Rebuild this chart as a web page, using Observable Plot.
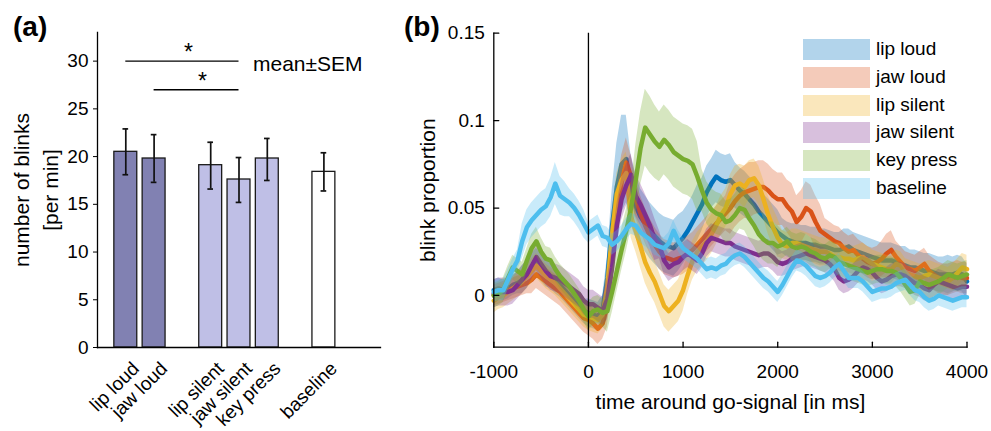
<!DOCTYPE html>
<html><head><meta charset="utf-8">
<script src="https://cdn.jsdelivr.net/npm/d3@7"></script>
<script src="https://cdn.jsdelivr.net/npm/@observablehq/plot@0.6"></script>
<style>
body{margin:0;background:#fff;}
#wrap{position:relative;width:991px;height:431px;font-family:"Liberation Sans",Arial,sans-serif;color:#000;overflow:hidden;}
#pa{position:absolute;left:0;top:0;}
#pb{position:absolute;left:400px;top:0;}
.tag{position:absolute;font-weight:bold;font-size:28px;line-height:28px;}
#legend{position:absolute;left:803px;top:39px;}
.row{position:relative;height:21px;margin-bottom:6.75px;font-size:19px;line-height:21px;}
.sw{position:absolute;left:0;top:0;width:67px;height:21px;opacity:0.3;}
.lt{position:absolute;left:73px;top:-1px;white-space:nowrap;}
</style></head><body>
<div id="wrap">
 <div id="pa"></div><div id="pb"></div>
 <div class="tag" style="left:13px;top:13px">(a)</div>
 <div class="tag" style="left:404px;top:13px">(b)</div>
 <div id="legend"></div>
</div>
<script>
// ---------- panel (a) data ----------
const conditions = ["lip loud","jaw loud","lip silent","jaw silent","key press","baseline"];
const blinkMean = [20.5, 19.8, 19.1, 17.6, 19.8, 18.4];
const blinkLow  = [18.1, 17.3, 16.6, 15.2, 17.5, 16.4];
const blinkHigh = [22.9, 22.3, 21.5, 19.9, 21.9, 20.4];
const yTicksA = [0, 5, 10, 15, 20, 25, 30];
const sigPairs = [["lip loud","jaw silent",30],["jaw loud","jaw silent",27]];

// ---------- panel (b) data: time from -1000 to 4000 ms, every 50 ms ----------
const timeMs = d3.range(-1000, 4001, 50);
const lipLoud = [
 0.003,0.004,0.003,0.004,0.006,0.007,0.009,0.012,0.016,0.019,
 0.016,0.013,0.011,0.008,0.006,0.003,0.000,-0.003,-0.006,-0.009,
 -0.010,-0.011,-0.012,-0.008,0.010,0.040,0.062,0.075,0.078,0.060,
 0.051,0.045,0.041,0.037,0.034,0.031,0.029,0.028,0.027,0.030,
 0.033,0.037,0.042,0.047,0.052,0.059,0.064,0.068,0.066,0.065,
 0.066,0.063,0.060,0.058,0.055,0.052,0.048,0.045,0.042,0.039,
 0.036,0.034,0.032,0.031,0.030,0.030,0.030,0.029,0.029,0.028,
 0.028,0.027,0.026,0.026,0.027,0.028,0.026,0.025,0.024,0.023,
 0.022,0.021,0.020,0.020,0.020,0.019,0.018,0.017,0.016,0.016,
 0.015,0.014,0.014,0.013,0.012,0.012,0.012,0.012,0.013,0.012,
 0.008];
const lipLoudSem = [
 0.006,0.006,0.006,0.006,0.006,0.006,0.008,0.008,0.008,0.008,
 0.008,0.008,0.007,0.007,0.007,0.007,0.007,0.007,0.007,0.007,
 0.008,0.008,0.008,0.008,0.012,0.020,0.025,0.028,0.025,0.020,
 0.018,0.016,0.016,0.016,0.016,0.016,0.016,0.016,0.016,0.016,
 0.015,0.015,0.015,0.016,0.015,0.015,0.014,0.015,0.015,0.015,
 0.015,0.013,0.013,0.013,0.013,0.013,0.013,0.013,0.013,0.013,
 0.013,0.010,0.010,0.010,0.011,0.010,0.010,0.010,0.010,0.010,
 0.010,0.010,0.010,0.010,0.011,0.010,0.010,0.010,0.010,0.010,
 0.010,0.010,0.010,0.010,0.010,0.010,0.010,0.011,0.010,0.010,
 0.010,0.010,0.010,0.010,0.010,0.010,0.011,0.010,0.010,0.010,
 0.010];
const jawLoud = [
 0.000,0.001,0.002,0.003,0.004,0.005,0.006,0.007,0.009,0.012,
 0.010,0.008,0.006,0.004,0.002,-0.001,-0.004,-0.007,-0.010,-0.013,
 -0.014,-0.016,-0.019,-0.016,-0.006,0.020,0.045,0.065,0.076,0.068,
 0.055,0.047,0.040,0.034,0.029,0.025,0.022,0.021,0.020,0.021,
 0.022,0.024,0.026,0.029,0.032,0.035,0.038,0.041,0.044,0.047,
 0.050,0.054,0.057,0.059,0.060,0.061,0.062,0.062,0.060,0.057,
 0.055,0.055,0.051,0.048,0.042,0.045,0.050,0.048,0.042,0.037,
 0.035,0.033,0.031,0.030,0.027,0.025,0.026,0.023,0.021,0.019,
 0.018,0.019,0.021,0.024,0.026,0.022,0.019,0.016,0.015,0.014,
 0.016,0.018,0.014,0.012,0.010,0.009,0.009,0.010,0.011,0.010,
 0.010];
const jawLoudSem = [
 0.006,0.006,0.006,0.006,0.006,0.006,0.006,0.006,0.008,0.008,
 0.008,0.008,0.008,0.008,0.008,0.008,0.008,0.008,0.008,0.008,
 0.009,0.009,0.009,0.009,0.012,0.015,0.015,0.015,0.014,0.012,
 0.011,0.010,0.010,0.010,0.010,0.010,0.010,0.010,0.010,0.010,
 0.010,0.010,0.010,0.010,0.010,0.010,0.010,0.010,0.010,0.010,
 0.015,0.015,0.015,0.015,0.016,0.015,0.015,0.015,0.015,0.015,
 0.015,0.015,0.015,0.016,0.015,0.015,0.015,0.015,0.015,0.015,
 0.009,0.009,0.009,0.009,0.009,0.009,0.009,0.009,0.009,0.009,
 0.009,0.009,0.010,0.011,0.011,0.009,0.009,0.009,0.009,0.009,
 0.009,0.009,0.009,0.009,0.009,0.009,0.009,0.009,0.009,0.009,
 0.009];
const lipSilent = [
 -0.003,-0.001,0.000,0.002,0.004,0.006,0.008,0.011,0.014,0.017,
 0.014,0.011,0.009,0.007,0.004,0.001,-0.002,-0.005,-0.008,-0.011,
 -0.012,-0.013,-0.014,-0.011,0.005,0.035,0.058,0.066,0.070,0.045,
 0.037,0.028,0.019,0.013,0.008,0.001,-0.006,-0.009,-0.006,-0.003,
 0.003,0.012,0.020,0.025,0.028,0.031,0.035,0.040,0.046,0.050,
 0.058,0.063,0.064,0.062,0.066,0.067,0.063,0.055,0.046,0.039,
 0.033,0.029,0.028,0.030,0.030,0.029,0.028,0.027,0.026,0.025,
 0.025,0.024,0.022,0.022,0.021,0.021,0.020,0.021,0.022,0.020,
 0.018,0.017,0.016,0.015,0.015,0.018,0.017,0.013,0.012,0.011,
 0.010,0.011,0.012,0.011,0.010,0.009,0.008,0.010,0.013,0.016,
 0.015];
const lipSilentSem = [
 0.007,0.007,0.007,0.007,0.007,0.007,0.007,0.007,0.007,0.007,
 0.007,0.007,0.007,0.007,0.007,0.007,0.007,0.007,0.007,0.007,
 0.008,0.008,0.008,0.008,0.012,0.012,0.012,0.012,0.012,0.012,
 0.012,0.012,0.012,0.012,0.012,0.012,0.012,0.012,0.012,0.012,
 0.012,0.011,0.011,0.011,0.011,0.011,0.011,0.011,0.011,0.011,
 0.011,0.011,0.011,0.012,0.011,0.011,0.011,0.011,0.011,0.011,
 0.011,0.008,0.008,0.008,0.008,0.008,0.008,0.008,0.008,0.008,
 0.008,0.008,0.008,0.008,0.008,0.008,0.008,0.008,0.008,0.008,
 0.008,0.008,0.008,0.008,0.008,0.008,0.008,0.008,0.008,0.008,
 0.008,0.008,0.008,0.008,0.008,0.008,0.008,0.008,0.008,0.008,
 0.008];
const jawSilent = [
 0.001,0.002,0.002,0.002,0.003,0.006,0.009,0.012,0.017,0.022,
 0.018,0.014,0.011,0.010,0.009,0.007,0.005,0.003,0.001,-0.003,
 -0.005,-0.005,-0.007,-0.009,-0.002,0.016,0.040,0.055,0.063,0.069,
 0.057,0.052,0.046,0.040,0.032,0.029,0.020,0.016,0.018,0.019,
 0.022,0.024,0.022,0.020,0.024,0.030,0.033,0.032,0.031,0.030,
 0.030,0.028,0.027,0.026,0.025,0.024,0.023,0.024,0.024,0.022,
 0.019,0.018,0.019,0.021,0.022,0.023,0.024,0.023,0.022,0.021,
 0.020,0.018,0.015,0.010,0.008,0.009,0.011,0.014,0.016,0.015,
 0.013,0.010,0.008,0.009,0.011,0.012,0.012,0.011,0.009,0.007,
 0.006,0.004,0.003,0.006,0.008,0.007,0.006,0.005,0.004,0.005,
 0.005];
const jawSilentSem = [
 0.008,0.008,0.008,0.008,0.008,0.008,0.008,0.008,0.008,0.008,
 0.008,0.008,0.008,0.008,0.008,0.008,0.008,0.008,0.008,0.008,
 0.008,0.008,0.008,0.008,0.012,0.012,0.012,0.012,0.012,0.012,
 0.012,0.012,0.012,0.012,0.012,0.008,0.008,0.008,0.008,0.008,
 0.008,0.008,0.008,0.008,0.008,0.008,0.008,0.008,0.008,0.008,
 0.008,0.008,0.008,0.008,0.008,0.008,0.008,0.008,0.008,0.008,
 0.008,0.007,0.007,0.007,0.007,0.007,0.007,0.007,0.007,0.007,
 0.007,0.007,0.007,0.007,0.007,0.007,0.007,0.007,0.007,0.007,
 0.007,0.007,0.007,0.007,0.007,0.007,0.007,0.007,0.007,0.007,
 0.007,0.007,0.007,0.007,0.007,0.007,0.007,0.007,0.007,0.007,
 0.007];
const keyPress = [
 0.000,0.001,0.003,0.010,0.016,0.014,0.012,0.020,0.027,0.031,
 0.025,0.021,0.020,0.015,0.011,0.008,0.005,0.001,-0.003,-0.008,
 -0.012,-0.009,-0.008,-0.010,-0.009,0.002,0.014,0.026,0.037,0.050,
 0.066,0.084,0.096,0.092,0.088,0.085,0.089,0.086,0.082,0.080,
 0.078,0.077,0.075,0.068,0.060,0.053,0.049,0.047,0.046,0.042,
 0.043,0.046,0.050,0.049,0.044,0.040,0.035,0.032,0.030,0.030,
 0.028,0.029,0.031,0.028,0.027,0.028,0.027,0.025,0.024,0.022,
 0.021,0.023,0.022,0.019,0.018,0.017,0.016,0.015,0.014,0.013,
 0.014,0.015,0.015,0.014,0.014,0.013,0.010,0.006,0.002,0.003,
 0.008,0.007,0.006,0.007,0.008,0.010,0.012,0.011,0.010,0.011,
 0.012];
const keyPressSem = [
 0.007,0.007,0.007,0.007,0.007,0.007,0.007,0.007,0.008,0.008,
 0.008,0.007,0.007,0.007,0.007,0.007,0.007,0.007,0.007,0.007,
 0.008,0.008,0.008,0.008,0.012,0.012,0.012,0.012,0.012,0.012,
 0.020,0.021,0.022,0.022,0.021,0.020,0.020,0.020,0.020,0.020,
 0.020,0.020,0.020,0.020,0.012,0.012,0.012,0.012,0.012,0.012,
 0.012,0.012,0.012,0.012,0.012,0.012,0.012,0.012,0.012,0.012,
 0.012,0.008,0.008,0.008,0.008,0.008,0.008,0.008,0.008,0.008,
 0.008,0.008,0.008,0.008,0.008,0.008,0.008,0.008,0.008,0.008,
 0.008,0.008,0.008,0.008,0.008,0.008,0.008,0.008,0.008,0.008,
 0.008,0.008,0.008,0.008,0.008,0.008,0.008,0.008,0.008,0.008,
 0.008];
const baseline = [
 0.002,0.003,0.003,0.009,0.015,0.020,0.031,0.039,0.043,0.046,
 0.049,0.051,0.056,0.064,0.057,0.055,0.053,0.050,0.046,0.041,
 0.036,0.038,0.040,0.034,0.033,0.029,0.031,0.034,0.038,0.041,
 0.040,0.036,0.034,0.032,0.029,0.028,0.027,0.030,0.037,0.031,
 0.027,0.025,0.023,0.021,0.018,0.015,0.016,0.015,0.017,0.018,
 0.021,0.023,0.024,0.022,0.019,0.016,0.013,0.010,0.008,0.005,
 0.002,0.006,0.011,0.016,0.020,0.019,0.017,0.014,0.011,0.010,
 0.011,0.013,0.016,0.018,0.014,0.010,0.010,0.010,0.008,0.005,
 0.002,0.003,0.004,0.004,0.005,0.007,0.008,0.009,0.006,0.003,
 0.002,-0.001,-0.003,-0.002,0.000,-0.001,-0.002,-0.003,-0.002,-0.001,
 -0.001];
const baselineSem = [
 0.006,0.006,0.006,0.006,0.006,0.006,0.010,0.010,0.010,0.010,
 0.010,0.010,0.011,0.012,0.011,0.010,0.008,0.008,0.008,0.008,
 0.006,0.006,0.006,0.006,0.006,0.006,0.006,0.006,0.006,0.006,
 0.006,0.006,0.006,0.006,0.006,0.006,0.006,0.006,0.006,0.006,
 0.006,0.006,0.006,0.006,0.006,0.006,0.006,0.006,0.006,0.006,
 0.006,0.006,0.006,0.006,0.006,0.006,0.006,0.006,0.006,0.006,
 0.006,0.006,0.006,0.006,0.006,0.006,0.006,0.006,0.006,0.006,
 0.006,0.006,0.006,0.006,0.006,0.006,0.006,0.006,0.006,0.006,
 0.006,0.006,0.006,0.006,0.006,0.006,0.006,0.006,0.006,0.006,
 0.006,0.006,0.006,0.006,0.006,0.006,0.006,0.006,0.006,0.006,
 0.006];
const xTicksB = [-1000, 0, 1000, 2000, 3000, 4000];
const yTicksB = [0, 0.05, 0.1, 0.15];
const seriesNames = ["lip loud","jaw loud","lip silent","jaw silent","key press","baseline"];

// ---------- styles ----------
const FONT = '"Liberation Sans", Arial, sans-serif';
const lineColors = ["#0072BD","#D95319","#EDB120","#7E2F8E","#77AC30","#4DBEEE"];
const barFill = {loud: "#8181b2", silent: "#bfbfe6", rest: "#ffffff"};
const barGroup = ["loud","loud","silent","silent","silent","rest"];

// ---------- panel (a) ----------
// slot layout: bars side by side, one empty slot between groups
let slot = 0, prev = null;
const barData = conditions.map((c, i) => {
  slot += (prev !== null && barGroup[i] !== prev) ? 2 : 1;
  prev = barGroup[i];
  return {c, m: blinkMean[i], lo: blinkLow[i], hi: blinkHigh[i], slot, fill: barFill[barGroup[i]]};
});
const slotOf = Object.fromEntries(barData.map(d => [d.c, d.slot]));
const sigData = sigPairs.map(([a, b, y]) => ({s1: slotOf[a], s2: slotOf[b], y}));
const half = 0.405, cap = 0.1;

const plotA = Plot.plot({
  width: 390, height: 431,
  marginLeft: 97, marginRight: 10, marginTop: 32, marginBottom: 84,
  x: {domain: [0, 10], axis: null},
  y: {domain: [0, 33], axis: null},
  color: {type: "identity"},
  style: {fontFamily: FONT, fontSize: "19px", color: "#000", background: "transparent"},
  marks: [
    Plot.rectY(barData, {x1: d => d.slot - half, x2: d => d.slot + half, y1: 0, y2: "m", fill: "fill", stroke: "#1a1a1a", strokeWidth: 1.3}),
    Plot.ruleX(barData, {x: "slot", y1: "lo", y2: "hi", stroke: "#111", strokeWidth: 1.7}),
    Plot.ruleY(barData, {x1: d => d.slot - cap, x2: d => d.slot + cap, y: "hi", stroke: "#111", strokeWidth: 1.7}),
    Plot.ruleY(barData, {x1: d => d.slot - cap, x2: d => d.slot + cap, y: "lo", stroke: "#111", strokeWidth: 1.7}),
    Plot.ruleY(sigData, {x1: "s1", x2: "s2", y: "y", stroke: "#000", strokeWidth: 1.3}),
    Plot.text(sigData, {x: d => (d.s1 + d.s2) / 2, y: "y", text: () => "*", fontSize: 23, dx: 6, dy: -8.5}),
    Plot.text([sigData[0]], {x: "s2", y: "y", text: () => "mean±SEM", textAnchor: "start", dx: 14, dy: 3, fontSize: 21}),
    Plot.frame({anchor: "left", strokeWidth: 1.3}),
    Plot.frame({anchor: "bottom", strokeWidth: 1.3}),
    Plot.axisY(yTicksA, {tickSize: 4, tickPadding: 5, fontSize: 19, label: null}),
    Plot.text(barData, {x: "slot", y: 0, text: "c", rotate: -45, textAnchor: "end", lineAnchor: "middle", dx: 10, dy: 18, fontSize: 19}),
    Plot.text(["number of blinks\n[per min]"], {frameAnchor: "left", rotate: -90, textAnchor: "middle", lineAnchor: "middle", dx: -63, fontSize: 21, lineHeight: 1.35})
  ]
});
document.getElementById("pa").appendChild(plotA);

// ---------- panel (b) ----------
const seriesVals = [lipLoud, jawLoud, lipSilent, jawSilent, keyPress, baseline];
const seriesSem = [lipLoudSem, jawLoudSem, lipSilentSem, jawSilentSem, keyPressSem, baselineSem];
const tickShape = {draw(context, l) { context.moveTo(0, 0); context.lineTo(0, -l); }};
const yMin = -0.0296, xMin = -1000;

const seriesMarks = [];
seriesNames.forEach((name, k) => {
  const rows = timeMs.map((t, i) => ({t, v: seriesVals[k][i], se: seriesSem[k][i]}));
  seriesMarks.push(Plot.areaY(rows, {x: "t", y1: d => d.v - d.se, y2: d => d.v + d.se, fill: lineColors[k], fillOpacity: 0.3}));
  seriesMarks.push(Plot.lineY(rows, {x: "t", y: "v", stroke: lineColors[k], strokeWidth: 4.5, strokeLinejoin: "round"}));
});

const plotB = Plot.plot({
  width: 591, height: 431,
  marginLeft: 93.3, marginRight: 24.5, marginTop: 32.7, marginBottom: 84.3,
  x: {domain: [-1000, 4000], axis: null},
  y: {domain: [yMin, 0.15], axis: null},
  style: {fontFamily: FONT, fontSize: "19px", color: "#000", background: "transparent"},
  marks: [
    ...seriesMarks,
    Plot.ruleX([0], {stroke: "#000", strokeWidth: 1.3}),
    Plot.frame({anchor: "left", strokeWidth: 1.3}),
    Plot.frame({anchor: "bottom", strokeWidth: 1.3}),
    Plot.vector(xTicksB, {x: d => d, y: yMin, length: 5, rotate: 0, anchor: "start", shape: tickShape, stroke: "#000", strokeWidth: 1.3}),
    Plot.vector(yTicksB, {x: xMin, y: d => d, length: 5, rotate: 90, anchor: "start", shape: tickShape, stroke: "#000", strokeWidth: 1.3}),
    Plot.axisX(xTicksB, {tickSize: 0, tickPadding: 17, fontSize: 19, label: null, tickFormat: d => String(d)}),
    Plot.axisY(yTicksB, {tickSize: 0, tickPadding: 9, fontSize: 19, label: null, tickFormat: d => String(d)}),
    Plot.text(["blink proportion"], {frameAnchor: "left", rotate: -90, textAnchor: "middle", lineAnchor: "middle", dx: -66, fontSize: 21}),
    Plot.text(["time around go-signal [in ms]"], {frameAnchor: "bottom", textAnchor: "middle", lineAnchor: "middle", dy: 55, fontSize: 21})
  ]
});
document.getElementById("pb").appendChild(plotB);

// ---------- legend ----------
const legend = document.getElementById("legend");
seriesNames.forEach((name, k) => {
  const row = document.createElement("div");
  row.className = "row";
  const sw = document.createElement("div");
  sw.className = "sw";
  sw.style.background = lineColors[k];
  const lt = document.createElement("div");
  lt.className = "lt";
  lt.textContent = name;
  row.appendChild(sw); row.appendChild(lt);
  legend.appendChild(row);
});
</script>
</body></html>
